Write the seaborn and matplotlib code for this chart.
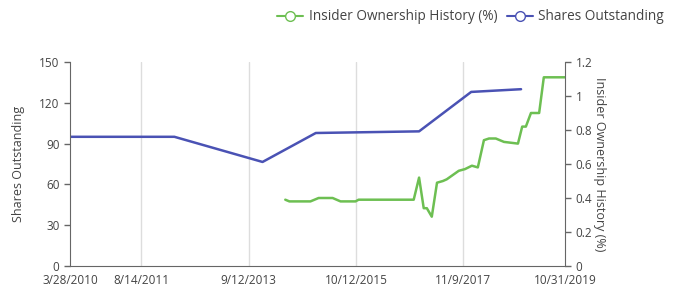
import matplotlib
matplotlib.use("Agg")
import matplotlib.pyplot as plt
import matplotlib.dates as mdates
from matplotlib.lines import Line2D
import seaborn as sns
import pandas as pd

shares_dates = ["2010-03-28", "2012-04-05", "2013-12-20", "2015-01-01",
                "2017-01-01", "2018-01-05", "2018-12-24"]
shares_values = [95, 95, 76.5, 97.8, 99, 128, 130]

insider_dates = ["2014-05-30", "2014-06-28", "2014-11-24", "2015-01-21", "2015-04-30",
                 "2015-06-25", "2015-10-09", "2015-10-31", "2016-11-24", "2017-01-01",
                 "2017-02-03", "2017-02-25", "2017-04-01", "2017-05-08", "2017-06-19",
                 "2017-07-16", "2017-09-05", "2017-10-09", "2017-11-22", "2018-01-10",
                 "2018-02-21", "2018-04-05", "2018-05-11", "2018-06-28", "2018-08-25",
                 "2018-12-02", "2019-01-01", "2019-01-27", "2019-03-04", "2019-05-01",
                 "2019-06-03", "2019-10-31"]
insider_values = [0.39, 0.38, 0.38, 0.40, 0.40,
                  0.38, 0.38, 0.39, 0.39, 0.52,
                  0.34, 0.34, 0.29, 0.49, 0.50,
                  0.51, 0.54, 0.56, 0.57, 0.59,
                  0.58, 0.74, 0.75, 0.75, 0.73,
                  0.72, 0.82, 0.82, 0.90, 0.90,
                  1.11, 1.11]

tick_dates = ["2010-03-28", "2011-08-14", "2013-09-12", "2015-10-12", "2017-11-09", "2019-10-31"]
tick_labels = ["3/28/2010", "8/14/2011", "9/12/2013", "10/12/2015", "11/9/2017", "10/31/2019"]

sns.set_style("white")
plt.rcParams['font.family'] = ['Open Sans', 'DejaVu Sans']

BLUE = "#4a52b4"
GREEN = "#6dbf52"
AXC = "#666666"
TXT = "#444444"

shares_df = pd.DataFrame({"date": pd.to_datetime(shares_dates), "value": shares_values})
insider_df = pd.DataFrame({"date": pd.to_datetime(insider_dates), "value": insider_values})

fig = plt.figure(figsize=(6.76, 2.96), dpi=100)
ax = fig.add_axes([70/676, 1-266/296, (565-70)/676, (266-62)/296])
ax2 = ax.twinx()

sns.lineplot(data=shares_df, x="date", y="value", ax=ax, color=BLUE, linewidth=1.8)
sns.lineplot(data=insider_df, x="date", y="value", ax=ax2, color=GREEN, linewidth=1.8)

xt = pd.to_datetime(tick_dates)
ax.set_xlim(xt[0], xt[-1])
ax.set_xticks(xt)
ax.set_xticklabels(tick_labels)
ax.set_ylim(0, 150)
ax.set_yticks([0, 30, 60, 90, 120, 150])
ax2.set_ylim(0, 1.2)
ax2.set_yticks([0, 0.2, 0.4, 0.6, 0.8, 1.0, 1.2])
ax2.set_yticklabels(["0", "0.2", "0.4", "0.6", "0.8", "1", "1.2"])

for x in xt[1:-1]:
    ax.axvline(x, color="#dddddd", linewidth=1, zorder=0)

for a in (ax, ax2):
    a.set_xlabel("")
    for s in a.spines.values():
        s.set_visible(False)
    a.tick_params(colors=AXC, labelcolor=TXT, labelsize=8.5, length=4, width=1, direction="out")

ax.spines["left"].set_visible(True)
ax.spines["left"].set_color(AXC)
ax.spines["bottom"].set_visible(True)
ax.spines["bottom"].set_color(AXC)
ax2.spines["right"].set_visible(True)
ax2.spines["right"].set_color(AXC)
ax.tick_params(axis="x", pad=2)

ax.set_ylabel("Shares Outstanding", color=TXT, fontsize=9, labelpad=10)
ax2.set_ylabel("Insider Ownership History (%)", color=TXT, fontsize=9, rotation=-90, labelpad=10)

handles = [
    Line2D([], [], color=GREEN, marker="o", markerfacecolor="white", markersize=7, linewidth=1.5),
    Line2D([], [], color=BLUE, marker="o", markerfacecolor="white", markersize=7, linewidth=1.5),
]
fig.legend(handles, ["Insider Ownership History (%)", "Shares Outstanding"],
           loc="upper right", bbox_to_anchor=(1.0, 1.01), ncol=2, frameon=False,
           fontsize=9.8, handlelength=1.9, handletextpad=0.4, columnspacing=0.7,
           labelcolor=TXT)

fig.savefig("out.png", dpi=100, facecolor="white")
